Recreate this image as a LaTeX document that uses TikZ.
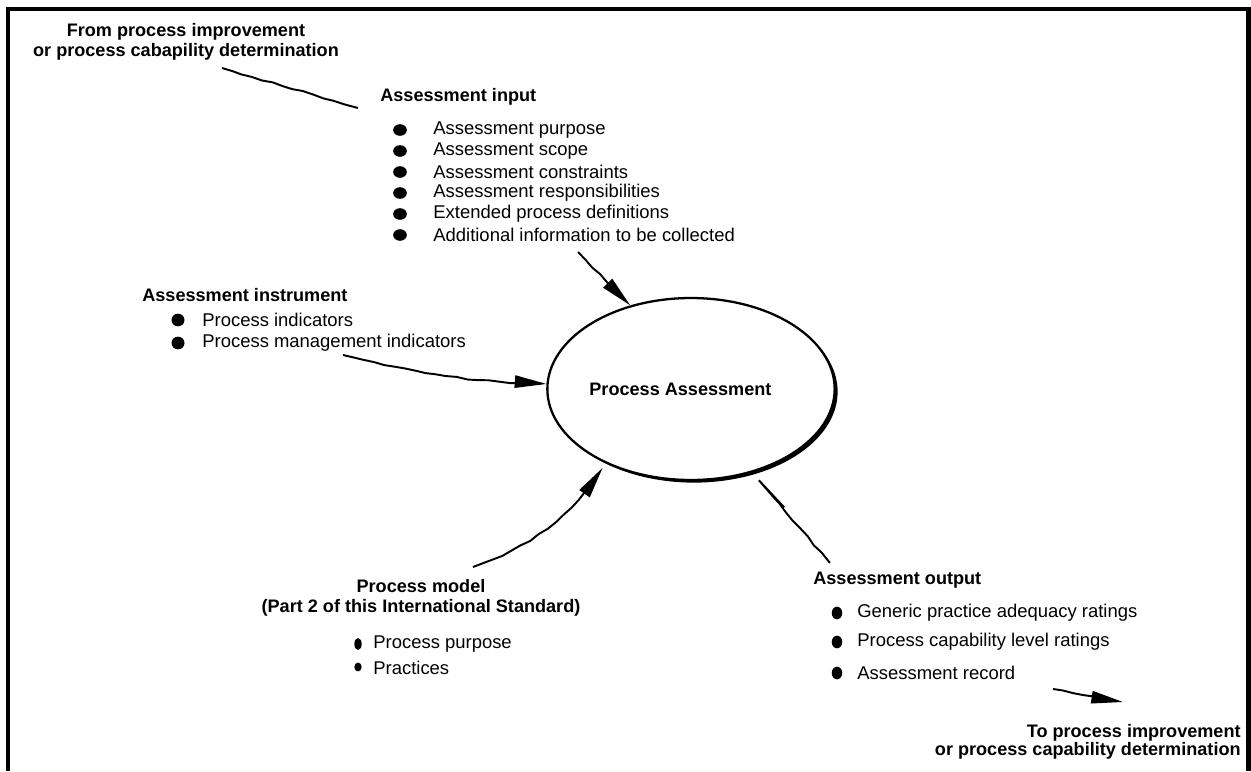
\documentclass[tikz,border=0pt]{standalone}
\usepackage{fontspec}
\setmainfont{Liberation Sans}
\usetikzlibrary{positioning,arrows.meta,shapes.geometric,shadows,decorations.pathmorphing}
\tikzset{
	>={Triangle[length=18pt,width=7pt]},
	head/.style={font=\fontsize{10.3}{11.3}\selectfont\bfseries, inner sep=0pt},
	item/.style={font=\fontsize{10.5}{12}\selectfont, inner sep=0pt, anchor=west},
	wob/.style={line width=1.1pt, decorate, decoration={random steps, segment length=6pt, amplitude=0.45pt}},
	frame/.style={line width=2.3pt},
	blob/.style={ellipse, draw, line width=1.3pt, fill=white, minimum width=5.48cm, minimum height=3.64cm,
		drop shadow={shadow xshift=1.7pt, shadow yshift=-1.5pt, fill=black, opacity=1}},
}
\pgfmathsetseed{5}

\begin{document}
\begin{tikzpicture}[x=0.02cm, y=-0.02cm]
		\useasboundingbox (0,0) rectangle (1251,771);
		\draw[frame] (8,771) -- (8,9) -- (1248.5,9) -- (1248.5,771);

		% centre
		\node[blob, head] (pa) at (691,389) {Process Assessment\hspace*{12pt}};

		% input
		\node[head, align=center] (from) at (186,42) {From process improvement\\or process cabapility determination};
		\node[head, anchor=west] (ain) at (380,97) {Assessment input};
		\foreach \t [count=\i] in {Assessment purpose, Assessment scope, Assessment constraints,
			Assessment responsibilities, Extended process definitions, Additional information to be collected}{
			\node[item] (in\i) at (433,{109+21*\i}) {\t};
			\fill (400,{109+21*\i}) ellipse [x radius=3.9pt, y radius=3.3pt];
		}

		% instrument
		\node[head, anchor=west] (ainst) at (142,295) {Assessment instrument};
		\node[item] (ins1) at (202,320) {Process indicators};
		\node[item] (ins2) at (202,343) {Process management indicators};
		\foreach \y in {320,343}
			\fill (178,\y) ellipse [x radius=3.7pt, y radius=3.6pt];

		% model
		\node[head, align=center] (pm) at (421,598) {Process model\\(Part 2 of this International Standard)};
		\node[item] (pm1) at (373,644) {Process purpose};
		\node[item] (pm2) at (373,668) {Practices};
		\fill (358,644) ellipse [x radius=2.1pt, y radius=3.4pt];
		\fill (358,667) ellipse [x radius=2.1pt, y radius=2.5pt];

		% output
		\node[head, anchor=west] (aout) at (813,580) {Assessment output};
		\node[item] (out1) at (857,613) {Generic practice adequacy ratings};
		\node[item] (out2) at (857,642) {Process capability level ratings};
		\node[item] (out3) at (857,673) {Assessment record};
		\foreach \y in {613,642,673}
			\fill (837,\y) ellipse [x radius=3pt, y radius=3.6pt];
		\node[head, align=right, anchor=east, font=\fontsize{10.3}{10.3}\selectfont\bfseries] (to) at (1241,742)
			{To process improvement\\or process capability determination};

		% connectors
		\coordinate (f1) at (222,68);
		\coordinate (f2) at (358,108);
		\coordinate (a1) at (578,252);
		\coordinate (i1) at (343,355);
		\coordinate (m1) at (473,567);
		\coordinate (o1) at (830,563);
		\coordinate (t1) at (1053,689);
		\coordinate (t2) at (1123,702);

		\draw[wob] (f1) -- (f2);
		\draw[wob, ->] (a1) -- (pa.126);
		\draw[wob, ->] (i1) to[bend right=6] (pa.178);
		\draw[wob, ->, shorten >=3pt] (m1) to[bend right=18] (pa.221);
		\draw[wob, shorten <=0.95cm] (pa.306) -- (o1);
		\draw[wob, ->] (t1) -- (t2);
	\end{tikzpicture}
\end{document}
